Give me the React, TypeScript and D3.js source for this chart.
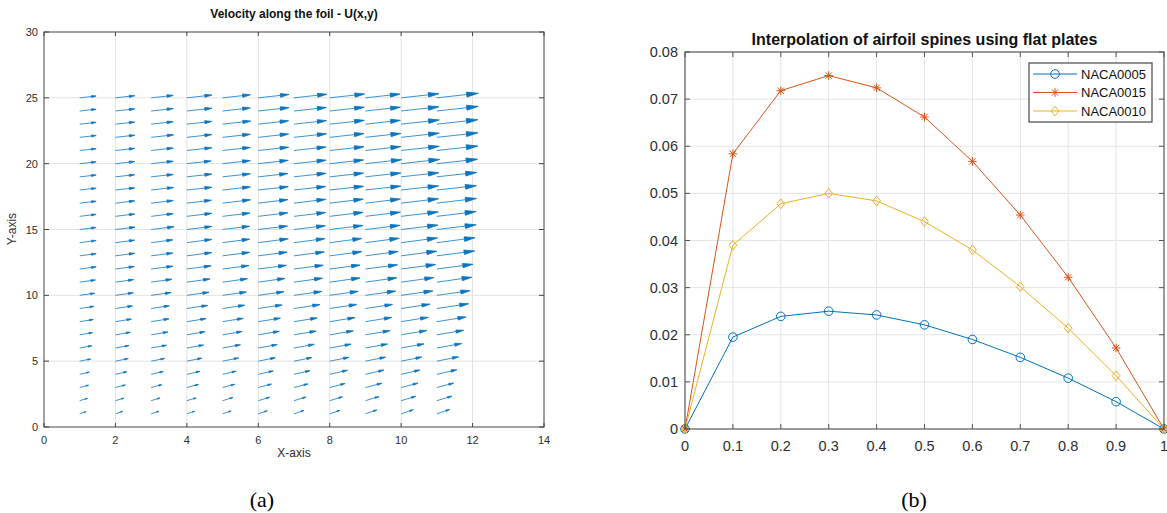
import React from 'react';
import * as d3 from 'd3';

// ---- panel (a): quiver field ----
const quiverX = [1, 2, 3, 4, 5, 6, 7, 8, 9, 10, 11];
const quiverY = [1, 2, 3, 4, 5, 6, 7, 8, 9, 10, 11, 12, 13, 14, 15, 16, 17, 18, 19, 20, 21, 22, 23, 24, 25];

// arrow length (in x-axis units) per row (y = 1..25), per column (x = 1..11)
const quiverU = [
  [0.18, 0.2, 0.22, 0.22, 0.24, 0.25, 0.28, 0.29, 0.32, 0.34, 0.36],
  [0.22, 0.24, 0.25, 0.26, 0.29, 0.32, 0.34, 0.36, 0.38, 0.41, 0.42],
  [0.25, 0.28, 0.3, 0.33, 0.34, 0.37, 0.39, 0.43, 0.46, 0.47, 0.47],
  [0.27, 0.32, 0.34, 0.37, 0.38, 0.42, 0.45, 0.5, 0.52, 0.53, 0.56],
  [0.31, 0.36, 0.38, 0.42, 0.45, 0.48, 0.5, 0.54, 0.57, 0.58, 0.61],
  [0.34, 0.38, 0.43, 0.47, 0.5, 0.53, 0.57, 0.6, 0.62, 0.64, 0.7],
  [0.36, 0.42, 0.47, 0.51, 0.55, 0.59, 0.62, 0.66, 0.69, 0.72, 0.75],
  [0.38, 0.45, 0.5, 0.54, 0.58, 0.62, 0.65, 0.71, 0.74, 0.76, 0.82],
  [0.4, 0.48, 0.51, 0.58, 0.62, 0.67, 0.73, 0.76, 0.76, 0.81, 0.89],
  [0.42, 0.5, 0.56, 0.62, 0.67, 0.72, 0.78, 0.8, 0.85, 0.89, 0.93],
  [0.44, 0.51, 0.58, 0.65, 0.7, 0.75, 0.8, 0.85, 0.88, 0.92, 0.98],
  [0.46, 0.53, 0.61, 0.68, 0.74, 0.79, 0.82, 0.85, 0.9, 0.97, 1.01],
  [0.46, 0.54, 0.61, 0.7, 0.76, 0.81, 0.85, 0.9, 0.92, 1.0, 1.06],
  [0.46, 0.54, 0.61, 0.7, 0.76, 0.84, 0.87, 0.9, 0.95, 1.02, 1.07],
  [0.46, 0.55, 0.64, 0.7, 0.76, 0.82, 0.88, 0.93, 0.97, 1.03, 1.1],
  [0.46, 0.54, 0.62, 0.7, 0.77, 0.83, 0.89, 0.94, 0.98, 1.04, 1.1],
  [0.46, 0.54, 0.62, 0.69, 0.78, 0.83, 0.89, 0.94, 0.98, 1.05, 1.11],
  [0.46, 0.54, 0.63, 0.7, 0.78, 0.84, 0.89, 0.95, 0.99, 1.05, 1.11],
  [0.46, 0.54, 0.62, 0.7, 0.78, 0.83, 0.9, 0.95, 0.99, 1.06, 1.12],
  [0.46, 0.54, 0.62, 0.68, 0.78, 0.84, 0.9, 0.95, 1.01, 1.08, 1.14],
  [0.46, 0.54, 0.62, 0.7, 0.78, 0.85, 0.9, 0.96, 0.99, 1.07, 1.15],
  [0.46, 0.54, 0.63, 0.7, 0.78, 0.85, 0.91, 0.96, 0.99, 1.07, 1.15],
  [0.46, 0.54, 0.62, 0.7, 0.79, 0.85, 0.91, 0.97, 0.98, 1.07, 1.15],
  [0.46, 0.54, 0.62, 0.7, 0.78, 0.86, 0.91, 0.97, 0.98, 1.06, 1.16],
  [0.46, 0.54, 0.62, 0.7, 0.78, 0.86, 0.92, 0.98, 0.97, 1.06, 1.16],
];
// drawn rise over run of the arrows in each row
const rowSlope = [0.34, 0.3, 0.26, 0.23, 0.2, 0.18, 0.17, 0.16, 0.15, 0.14, 0.14, 0.13, 0.13, 0.13, 0.12,
  0.12, 0.12, 0.11, 0.11, 0.11, 0.11, 0.11, 0.11, 0.11, 0.11];

const leftXTicks = [0, 2, 4, 6, 8, 10, 12, 14];
const leftYTicks = [0, 5, 10, 15, 20, 25, 30];

// ---- panel (b): airfoil spines ----
const chord = [0, 0.1, 0.2, 0.3, 0.4, 0.5, 0.6, 0.7, 0.8, 0.9, 1];
const naca0005 = [0, 0.0195, 0.0239, 0.025, 0.0242, 0.0221, 0.019, 0.0152, 0.0108, 0.0058, 0];
const naca0015 = [0, 0.0584, 0.0718, 0.075, 0.0724, 0.0662, 0.0568, 0.0454, 0.0322, 0.0172, 0];
const naca0010 = [0, 0.039, 0.0478, 0.05, 0.0484, 0.044, 0.038, 0.0302, 0.0214, 0.0113, 0];
const rightXTicks = [0, 0.1, 0.2, 0.3, 0.4, 0.5, 0.6, 0.7, 0.8, 0.9, 1];
const rightYTicks = [0, 0.01, 0.02, 0.03, 0.04, 0.05, 0.06, 0.07, 0.08];

const series = [
  { name: 'NACA0005', values: naca0005, color: '#0072BD', marker: 'circle' },
  { name: 'NACA0015', values: naca0015, color: '#D95319', marker: 'star' },
  { name: 'NACA0010', values: naca0010, color: '#EDB120', marker: 'diamond' },
];

const SANS = '"Liberation Sans", Arial, Helvetica, sans-serif';
const AXIS = '#444';
const TEXT = '#2e2e2e';

function Marker({ kind, x, y, color }: { kind: string; x: number; y: number; color: string }) {
  if (kind === 'circle') return <circle cx={x} cy={y} r={4.3} fill="none" stroke={color} strokeWidth={1} />;
  if (kind === 'diamond') {
    const s = 4.8;
    return <path d={`M${x},${y - s}L${x + s * 0.8},${y}L${x},${y + s}L${x - s * 0.8},${y}Z`} fill="none" stroke={color} strokeWidth={1} />;
  }
  const s = 4.3;
  const d = s * 0.72;
  return (
    <path
      d={`M${x - s},${y}L${x + s},${y}M${x},${y - s}L${x},${y + s}M${x - d},${y - d}L${x + d},${y + d}M${x - d},${y + d}L${x + d},${y - d}`}
      stroke={color}
      strokeWidth={1}
    />
  );
}

const fmt = (v: number) => (v === 0 ? '0' : String(+v.toFixed(2)));

export default function App() {
  // panel (a) scales
  const ax = d3.scaleLinear().domain([0, 14]).range([44, 544]);
  const ay = d3.scaleLinear().domain([0, 30]).range([427, 32]);
  // panel (b) scales
  const bx = d3.scaleLinear().domain([0, 1]).range([685, 1164]);
  const by = d3.scaleLinear().domain([0, 0.08]).range([429, 52]);

  const line = d3.line<number>();

  const arrows: React.ReactNode[] = [];
  quiverY.forEach((yv, ri) => {
    quiverX.forEach((xv, ci) => {
      const len = ax(quiverU[ri][ci]) - ax(0);
      const x0 = ax(xv);
      const y0 = ay(yv);
      const dx = len;
      const dy = -rowSlope[ri] * len;
      const L = Math.hypot(dx, dy);
      const ux = dx / L;
      const uy = dy / L;
      const x1 = x0 + dx;
      const y1 = y0 + dy;
      const h = 0.28 * L;
      const w = 0.06 * L;
      const hx = x1 - ux * h;
      const hy = y1 - uy * h;
      arrows.push(
        <g key={`${ri}-${ci}`}>
          <path d={`M${x0},${y0}L${hx},${hy}`} fill="none" stroke="#3d93d1" strokeWidth={1} />
          <path
            d={`M${hx - uy * w},${hy + ux * w}L${x1},${y1}L${hx + uy * w},${hy - ux * w}Z`}
            fill="#0a74c0"
            stroke="#0a74c0"
            strokeWidth={0.8}
            strokeLinejoin="round"
          />
        </g>,
      );
    });
  });

  const [axL, axR] = ax.range();
  const [ayB, ayT] = ay.range();
  const [bxL, bxR] = bx.range();
  const [byB, byT] = by.range();

  return (
    <svg width={1167} height={513} style={{ position: 'absolute', left: 0, top: 0, background: '#fff' }}>
      <rect width={1167} height={513} fill="#fff" />

      {/* ===== panel (a) ===== */}
      <g>
        {leftXTicks.slice(1, -1).map((t) => (
          <line key={`agx${t}`} x1={ax(t)} x2={ax(t)} y1={ayB} y2={ayT} stroke="#e2e2e2" strokeWidth={1} />
        ))}
        {leftYTicks.slice(1, -1).map((t) => (
          <line key={`agy${t}`} x1={axL} x2={axR} y1={ay(t)} y2={ay(t)} stroke="#e2e2e2" strokeWidth={1} />
        ))}
        {arrows}
        <rect x={axL} y={ayT} width={axR - axL} height={ayB - ayT} fill="none" stroke={AXIS} strokeWidth={1} />
        {leftXTicks.map((t) => (
          <g key={`axt${t}`}>
            <line x1={ax(t)} x2={ax(t)} y1={ayB} y2={ayB - 4} stroke={AXIS} />
            <line x1={ax(t)} x2={ax(t)} y1={ayT} y2={ayT + 4} stroke={AXIS} />
            <text x={ax(t)} y={ayB + 17} textAnchor="middle" fontFamily={SANS} fontSize={11} fill={TEXT}>
              {t}
            </text>
          </g>
        ))}
        {leftYTicks.map((t) => (
          <g key={`ayt${t}`}>
            <line x1={axL} x2={axL + 5} y1={ay(t)} y2={ay(t)} stroke={AXIS} />
            <line x1={axR} x2={axR - 5} y1={ay(t)} y2={ay(t)} stroke={AXIS} />
            <text x={axL - 6} y={ay(t) + 4} textAnchor="end" fontFamily={SANS} fontSize={11} fill={TEXT}>
              {t}
            </text>
          </g>
        ))}
        <text x={294} y={18} textAnchor="middle" fontFamily={SANS} fontSize={12} fontWeight="bold" fill="#111">
          Velocity along the foil - U(x,y)
        </text>
        <text x={294} y={457} textAnchor="middle" fontFamily={SANS} fontSize={12} fill={TEXT}>
          X-axis
        </text>
        <text transform={`translate(16,229) rotate(-90)`} textAnchor="middle" fontFamily={SANS} fontSize={12} fill={TEXT}>
          Y-axis
        </text>
      </g>

      {/* ===== panel (b) ===== */}
      <g>
        {rightXTicks.slice(1, -1).map((t) => (
          <line key={`bgx${t}`} x1={bx(t)} x2={bx(t)} y1={byB} y2={byT} stroke="#e4e4e4" strokeWidth={1} />
        ))}
        {rightYTicks.slice(1, -1).map((t) => (
          <line key={`bgy${t}`} x1={bxL} x2={bxR} y1={by(t)} y2={by(t)} stroke="#e4e4e4" strokeWidth={1} />
        ))}
        {series.map((s) => (
          <g key={s.name}>
            <path
              d={line(chord.map((c, i) => [bx(c), by(s.values[i])]) as any) || ''}
              fill="none"
              stroke={s.color}
              strokeWidth={1}
            />
            {chord.map((c, i) => (
              <Marker key={i} kind={s.marker} x={bx(c)} y={by(s.values[i])} color={s.color} />
            ))}
          </g>
        ))}
        <rect x={bxL} y={byT} width={bxR - bxL} height={byB - byT} fill="none" stroke="#555" strokeWidth={1.2} />
        {rightXTicks.map((t) => (
          <g key={`bxt${t}`}>
            <line x1={bx(t)} x2={bx(t)} y1={byB} y2={byB - 5} stroke="#555" />
            <line x1={bx(t)} x2={bx(t)} y1={byT} y2={byT + 5} stroke="#555" />
            <text x={bx(t)} y={byB + 22} textAnchor="middle" fontFamily={SANS} fontSize={14.5} fill={TEXT}>
              {fmt(t)}
            </text>
          </g>
        ))}
        {rightYTicks.map((t) => (
          <g key={`byt${t}`}>
            <line x1={bxL} x2={bxL + 5} y1={by(t)} y2={by(t)} stroke="#555" />
            <line x1={bxR} x2={bxR - 5} y1={by(t)} y2={by(t)} stroke="#555" />
            <text x={bxL - 7} y={by(t) + 5} textAnchor="end" fontFamily={SANS} fontSize={14.5} fill={TEXT}>
              {fmt(t)}
            </text>
          </g>
        ))}
        <text x={(bxL + bxR) / 2} y={45} textAnchor="middle" fontFamily={SANS} fontSize={16} fontWeight="bold" fill="#111">
          Interpolation of airfoil spines using flat plates
        </text>
        {/* legend */}
        <rect x={1029} y={63} width={123} height={59} fill="#fff" stroke="#555" strokeWidth={1.3} />
        {series.map((s, i) => {
          const yy = 74 + i * 18.5;
          return (
            <g key={`lg${s.name}`}>
              <line x1={1033} x2={1077} y1={yy} y2={yy} stroke={s.color} strokeWidth={1} />
              <Marker kind={s.marker} x={1055} y={yy} color={s.color} />
              <text x={1081} y={yy + 4.6} fontFamily={SANS} fontSize={13} fill="#111">
                {s.name}
              </text>
            </g>
          );
        })}
      </g>

      {/* captions */}
      <text x={262} y={507} textAnchor="middle" fontFamily='"Liberation Serif", "Times New Roman", serif' fontSize={22} fill="#000">
        (a)
      </text>
      <text x={914} y={507} textAnchor="middle" fontFamily='"Liberation Serif", "Times New Roman", serif' fontSize={22} fill="#000">
        (b)
      </text>
    </svg>
  );
}
